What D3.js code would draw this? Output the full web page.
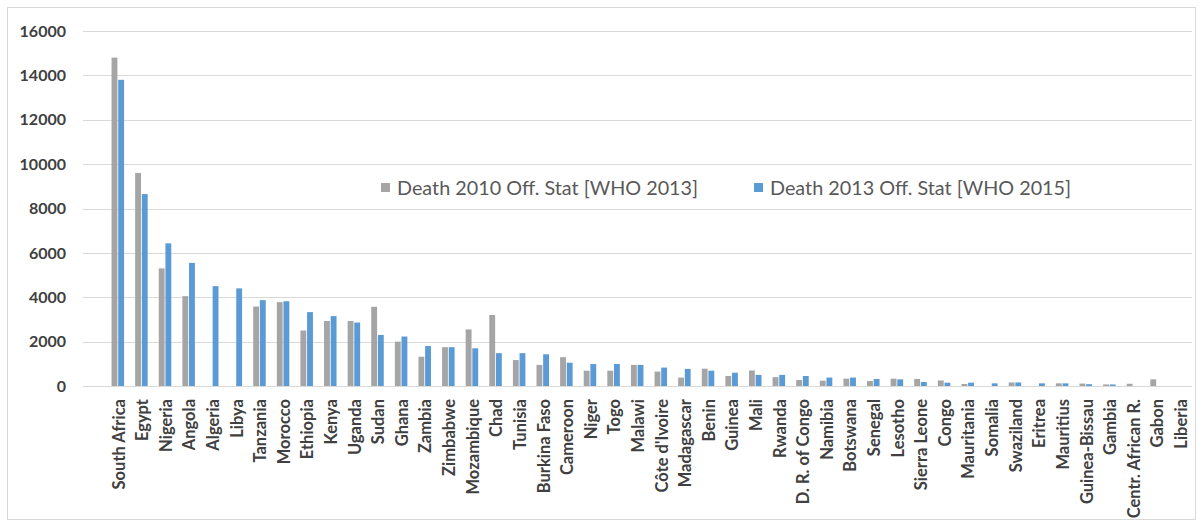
<!DOCTYPE html>
<meta charset="utf-8">
<style>
  body { margin: 0; background: #fff; }
  text { font-family: Lato, "Open Sans", sans-serif; }
</style>
<body>
  <svg width="1202" height="524"></svg>
  <script src="https://cdn.jsdelivr.net/npm/d3@7"></script>
  <script>
    // data
    const countries = ["South Africa", "Egypt", "Nigeria", "Angola", "Algeria", "Libya", "Tanzania", "Morocco",
      "Ethiopia", "Kenya", "Uganda", "Sudan", "Ghana", "Zambia", "Zimbabwe", "Mozambique", "Chad", "Tunisia",
      "Burkina Faso", "Cameroon", "Niger", "Togo", "Malawi", "Côte d'Ivoire", "Madagascar", "Benin", "Guinea",
      "Mali", "Rwanda", "D. R. of Congo", "Namibia", "Botswana", "Senegal", "Lesotho", "Sierra Leone", "Congo",
      "Mauritania", "Somalia", "Swaziland", "Eritrea", "Mauritius", "Guinea-Bissau", "Gambia",
      "Centr. African R.", "Gabon", "Liberia"]

    const death2010 = [14800, 9600, 5300, 4050, 0, 0, 3580, 3780, 2500, 2930, 2930, 3570, 2000, 1320, 1750, 2550,
      3200, 1170, 950, 1300, 690, 690, 950, 650, 380, 780, 450, 700, 400, 270, 240, 330, 225, 330, 320, 250,
      90, 0, 160, 0, 120, 110, 70, 100, 300, 0]

    const death2013 = [13800, 8650, 6430, 5550, 4500, 4400, 3870, 3820, 3330, 3150, 2860, 2300, 2230, 1800, 1750,
      1700, 1480, 1480, 1430, 1050, 990, 990, 950, 830, 770, 690, 600, 500, 500, 450, 380, 380, 315, 300, 180, 150,
      150, 120, 160, 120, 120, 80, 70, 0, 0, 0]

    const seriesNames = ["Death 2010 Off. Stat [WHO 2013]", "Death 2013 Off. Stat [WHO 2015]"]
    const yTicks = [0, 2000, 4000, 6000, 8000, 10000, 12000, 14000, 16000]

    const colors = ["#a5a5a5", "#5b9bd5"]

    const svg = d3.select("svg")

    // outer chart frame
    svg.append("rect")
      .attr("x", 7.5).attr("y", 7.5)
      .attr("width", 1188).attr("height", 512)
      .attr("fill", "none").attr("stroke", "#d9d9d9")

    const y = d3.scaleLinear().domain([0, 16000]).range([386, 31])

    const x = d3.scaleBand().domain(countries).range([106, 1192]).paddingInner(0.47).paddingOuter(0.235)

    const xs = d3.scaleBand().domain([0, 1]).range([0, x.bandwidth()]).paddingInner(0.12)

    // gridlines
    svg.append("g")
      .selectAll("line")
      .data(yTicks)
      .enter().append("line")
      .attr("x1", 83).attr("x2", 1192)
      .attr("y1", d => Math.round(y(d)) + 0.5)
      .attr("y2", d => Math.round(y(d)) + 0.5)
      .attr("stroke", "#d9d9d9")
      .attr("stroke-width", 1.2)

    // y axis labels
    const yAxis = svg.append("g")
      .attr("transform", "translate(72,0)")
      .call(d3.axisLeft(y).tickValues(yTicks).tickSize(0).tickPadding(6).tickFormat(d3.format("d")))
    yAxis.select(".domain").remove()
    yAxis.selectAll("text")
      .style("font-family", "Lato, sans-serif")
      .style("font-size", "16px")
      .style("font-weight", "bold")
      .attr("fill", "#404040")

    // bars
    const rows = countries.map((c, i) => ({ country: c, vals: [death2010[i], death2013[i]] }))

    const group = svg.append("g")
      .selectAll("g")
      .data(rows)
      .enter().append("g")
      .attr("transform", d => "translate(" + x(d.country) + ",0)")

    group.selectAll("rect")
      .data(d => d.vals.map((v, k) => ({ k: k, v: v })))
      .enter().append("rect")
      .attr("x", d => xs(d.k))
      .attr("width", xs.bandwidth())
      .attr("y", d => y(d.v))
      .attr("height", d => y(0) - y(d.v))
      .attr("fill", d => colors[d.k])

    // x axis
    const xAxis = svg.append("g")
      .attr("transform", "translate(0,386)")
      .call(d3.axisBottom(x).tickSize(0).tickPadding(0))
    xAxis.select(".domain").remove()
    xAxis.selectAll("text")
      .attr("transform", "rotate(-90)")
      .attr("x", -13)
      .attr("y", 1)
      .attr("dy", "0.35em")
      .attr("text-anchor", "end")
      .style("font-family", "Lato, sans-serif")
      .style("font-size", "16.5px")
      .style("font-weight", "bold")
      .attr("fill", "#404040")

    // legend
    const legendX = [381, 754]
    const legend = svg.append("g")
      .selectAll("g")
      .data(seriesNames)
      .enter().append("g")
      .attr("transform", (d, i) => "translate(" + legendX[i] + ",188)")

    legend.append("rect")
      .attr("x", 0).attr("y", -5)
      .attr("width", 9).attr("height", 9)
      .attr("fill", (d, i) => colors[i])

    legend.append("text")
      .attr("x", 16)
      .attr("dy", "0.35em")
      .style("font-size", "19.8px")
      .attr("fill", "#595959")
      .text(d => d)
  </script>
</body>
